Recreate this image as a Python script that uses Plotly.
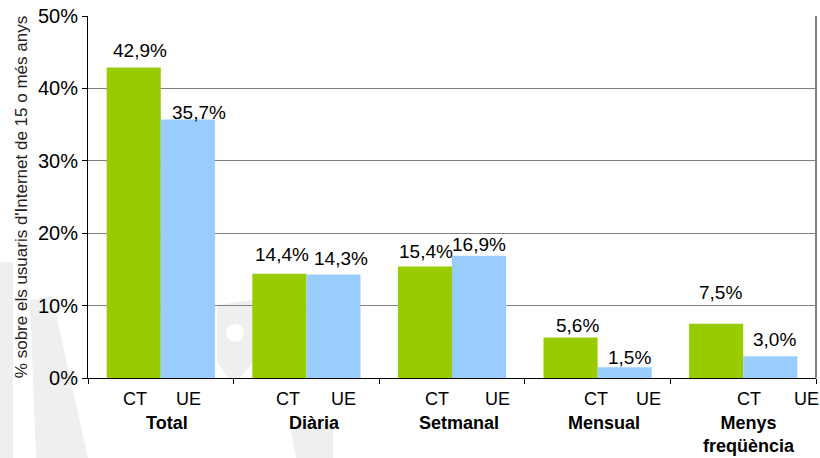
import plotly.graph_objects as go

groups = ["Total", "Diària", "Setmanal", "Mensual", "Menys<br>freqüència"]
series_names = ["CT", "UE"]
ct_values = [42.9, 14.4, 15.4, 5.6, 7.5]
ue_values = [35.7, 14.3, 16.9, 1.5, 3.0]
y_ticks = [0, 10, 20, 30, 40, 50]
y_tick_labels = [f"{t}%" for t in y_ticks]
y_title = "% sobre els usuaris d'Internet de 15 o més anys"

colors = ["#99CC00", "#99CCFF"]
FONT = "Liberation Sans, Arial, sans-serif"

# label placement styles (pixels)
ct_label_dx = [6, 3, 1, 7, 4]
ct_label_dy = [17, 19, 15, 12, 31]
ue_label_dx = [11, 8, 0, 5, 4]
ue_label_dy = [7, 16, 11, 10, 17]
sub_ct_dx = [-26, -18, -15, -2, 6]
sub_ue_dx = [28, 37, 45, 51, 63]
group_dx = [6, 8, 7, 6, 6]

fig = go.Figure()
for name, vals, col in zip(series_names, [ct_values, ue_values], colors):
    fig.add_trace(go.Bar(x=groups, y=vals, name=name, marker=dict(color=col, line=dict(width=0))))

bar_px = 145.4 * (1 - 0.257) / 2
ann = []
for i, g in enumerate(groups):
    for vals, dxs, dys, side in [(ct_values, ct_label_dx, ct_label_dy, -1), (ue_values, ue_label_dx, ue_label_dy, 1)]:
        v = vals[i]
        ann.append(dict(x=g, y=v, xref="x", yref="y", text=f"{v:.1f}".replace(".", ",") + "%",
                        showarrow=False, xshift=side * bar_px / 2 + dxs[i], yshift=dys[i],
                        font=dict(size=19, color="black", family=FONT)))
    for nm, dx in [(series_names[0], sub_ct_dx[i]), (series_names[1], sub_ue_dx[i])]:
        ann.append(dict(x=g, y=0, xref="x", yref="y", text=nm, showarrow=False,
                        xshift=dx, yshift=-21, font=dict(size=18, color="black", family=FONT)))
    ann.append(dict(x=g, y=0, xref="x", yref="y", text="<b>" + g + "</b>", showarrow=False,
                    xshift=group_dx[i], yshift=-33, yanchor="top", align="center",
                    font=dict(size=18, color="black", family=FONT)))

# faint background watermark (decoration), given in page pixels
PL, PR, PT, PB = 88, 816, 16, 378
def px(x, y):
    return (x - PL) / (PR - PL), (PB - y) / (PB - PT)

def poly(points):
    pts = [px(x, y) for x, y in points]
    return "M " + " L ".join(f"{a:.4f},{b:.4f}" for a, b in pts) + " Z"

wm_polys = [
    [(0, 262), (13, 262), (13, 458), (0, 458)],
    [(30, 300), (52, 296), (88, 458), (36, 458)],
    [(217, 305), (253, 300), (253, 362), (240, 378), (228, 378), (217, 362)],
    [(290, 425), (333, 423), (333, 458), (296, 458)],
]
shapes = [dict(type="path", xref="paper", yref="paper", path=poly(p), fillcolor="#efefef",
               line=dict(width=0), layer="below") for p in wm_polys]
cx, cy = px(235, 333)
rx = 9 / (PR - PL)
ry = 9 / (PB - PT)
shapes.append(dict(type="circle", xref="paper", yref="paper", x0=cx - rx, x1=cx + rx,
                   y0=cy - ry, y1=cy + ry, fillcolor="white", line=dict(width=0), layer="below"))
shapes.append(dict(type="line", xref="paper", yref="paper", x0=1, x1=1, y0=0, y1=1,
                   line=dict(color="#808080", width=2)))

fig.update_layout(
    width=820, height=458,
    margin=dict(l=88, r=4, t=16, b=80),
    barmode="group", bargap=0.257, bargroupgap=0,
    plot_bgcolor="rgba(0,0,0,0)", paper_bgcolor="white",
    showlegend=False,
    font=dict(family=FONT, color="black"),
    annotations=ann,
    shapes=shapes,
)
fig.update_xaxes(range=[-0.5, 4.5], showticklabels=False, ticks="outside", tickson="boundaries",
                 ticklen=5, tickcolor="black", showline=True, linecolor="black", linewidth=1,
                 showgrid=False, automargin=False)
fig.update_yaxes(range=[0, 50], tickvals=y_ticks, ticktext=y_tick_labels, ticks="outside", ticklen=5,
                 tickcolor="black", showline=True, linecolor="black", linewidth=1,
                 showgrid=True, gridcolor="#808080", gridwidth=1, zeroline=False, automargin=False,
                 ticklabeloverflow="allow",
                 tickfont=dict(size=20, family=FONT, color="black"),
                 title=dict(text=y_title, font=dict(size=17, family=FONT, color="#222"), standoff=6))

# remove the browser's default body margin so the figure sits at the page origin
fig.write_html("out.html", config={"displayModeBar": False},
               post_script="document.body.style.margin='0';")
